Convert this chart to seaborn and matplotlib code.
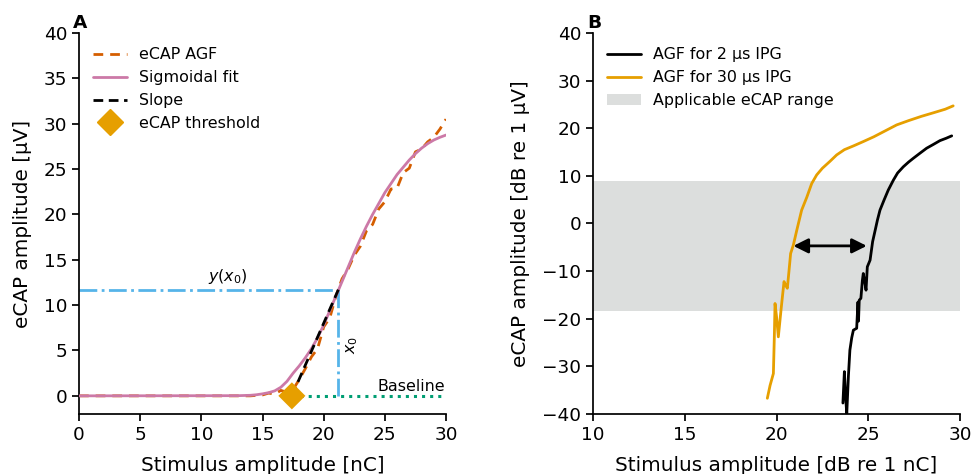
import numpy as np
import pandas as pd
import matplotlib
matplotlib.use("Agg")
import matplotlib.pyplot as plt
import seaborn as sns
from matplotlib.lines import Line2D
from matplotlib.patches import Patch

# ---------------- Panel A data ----------------
agf_x = [0, 5, 10, 14, 15, 15.5, 16, 16.5, 17, 17.5, 18, 18.5, 19, 19.5, 20, 20.5,
         21, 21.5, 22, 22.5, 23, 23.5, 24, 24.5, 25, 25.5, 26, 26.5, 27, 27.5,
         28, 28.5, 29, 29.5, 30]
agf_y = [0, 0, 0, 0, 0.1, 0.3, 0.2, 0.6, 0.4, 0.7, 1.8, 3.0, 4.3, 5.2, 7.6, 8.6,
         11.0, 12.9, 14.0, 15.5, 16.5, 18.2, 18.9, 20.6, 21.4, 22.8, 22.9, 24.6,
         25.1, 26.9, 27.2, 28.0, 28.5, 29.4, 30.5]

sig_x = [0, 13, 14, 14.5, 15, 15.5, 16, 16.5, 17, 17.5, 18, 18.5, 19, 19.5, 20,
         20.5, 21, 21.5, 22, 22.5, 23, 23.5, 24, 24.5, 25, 25.5, 26, 26.5, 27,
         27.5, 28, 28.5, 29, 29.5, 30]
sig_y = [0, 0.02, 0.06, 0.12, 0.22, 0.35, 0.55, 0.95, 1.6, 2.5, 3.3, 4.2, 5.2,
         6.4, 7.8, 9.4, 11.0, 12.6, 14.2, 15.8, 17.3, 18.7, 20.0, 21.2, 22.4,
         23.4, 24.4, 25.2, 26.0, 26.7, 27.3, 27.8, 28.2, 28.5, 28.75]

slope_x = [17.4, 21.2]
slope_y = [0.0, 11.7]

thr_x = [17.4]
thr_y = [0.0]

x0_val = 21.2
y_x0_val = 11.7
baseline_x = [17.4, 30]
baseline_y = [0, 0]

# ---------------- Panel B data ----------------
ipg30_x = [19.50, 19.65, 19.83, 19.88, 19.92, 20.00, 20.10, 20.25, 20.41, 20.50,
           20.59, 20.68, 20.77, 20.92, 21.10, 21.37, 21.65, 21.92, 22.19, 22.50,
           22.90, 23.28, 23.70, 24.20, 24.73, 25.30, 25.90, 26.55, 27.20, 27.90,
           28.60, 29.20, 29.63]
ipg30_y = [-36.7, -34.0, -31.5, -24.0, -16.8, -19.5, -23.8, -18.0, -12.2, -13.0,
           -13.6, -10.0, -6.3, -4.5, -1.5, 2.8, 5.5, 8.4, 10.2, 11.6,
           13.0, 14.4, 15.5, 16.3, 17.2, 18.2, 19.4, 20.7, 21.6, 22.5,
           23.3, 24.0, 24.7]

ipg2_x = [23.62, 23.70, 23.76, 23.83, 23.92, 24.00, 24.10, 24.19, 24.37, 24.44,
          24.47, 24.51, 24.60, 24.68, 24.73, 24.82, 24.88, 24.95, 25.10, 25.24,
          25.42, 25.50, 25.64, 25.86, 26.09, 26.37, 26.60, 26.91, 27.20, 27.46,
          27.80, 28.18, 28.55, 28.91, 29.25, 29.55]
ipg2_y = [-37.7, -31.1, -36.0, -39.9, -32.0, -26.6, -24.0, -22.4, -22.0, -16.5,
          -20.5, -16.1, -15.7, -12.0, -10.5, -12.5, -14.0, -9.1, -7.7, -3.8,
          -0.7, 0.7, 2.8, 4.9, 7.0, 9.1, 10.6, 11.9, 12.9, 13.7,
          14.7, 15.8, 16.6, 17.4, 17.9, 18.4]

range_low = -18.3
range_high = 8.9
arrow_x = [20.92, 24.92]
arrow_y = -4.7

# ---------------- Colours ----------------
c_agf = "#D55E00"
c_sig = "#CC79A7"
c_thr = "#E69F00"
c_blue = "#56B4E9"
c_green = "#009E73"
c_gray = "#DCDEDD"

sns.set_theme(style="ticks")
plt.rcParams["font.family"] = ["DejaVu Sans"]
plt.rcParams.update({
    "axes.labelsize": 14.4,
    "xtick.labelsize": 13.3,
    "ytick.labelsize": 13.3,
    "axes.linewidth": 1.25,
    "xtick.major.width": 1.25,
    "ytick.major.width": 1.25,
    "xtick.major.size": 5,
    "ytick.major.size": 5,
    "xtick.color": "black",
    "ytick.color": "black",
    "axes.edgecolor": "black",
    "axes.labelcolor": "black",
    "text.color": "black",
})

LEG_FS = 11.4

fig = plt.figure(figsize=(9.73, 4.74), dpi=100)
axA = fig.add_axes([0.0812, 0.1266, 0.3772, 0.8038])
axB = fig.add_axes([0.6095, 0.1266, 0.3771, 0.8038])

# ---------- Panel A ----------
dfA_agf = pd.DataFrame({"x": agf_x, "y": agf_y})
dfA_sig = pd.DataFrame({"x": sig_x, "y": sig_y})
dfA_slope = pd.DataFrame({"x": slope_x, "y": slope_y})

axA.plot([0, x0_val], [y_x0_val, y_x0_val], color=c_blue, ls="-.", lw=2, zorder=1)
axA.plot([x0_val, x0_val], [0, y_x0_val], color=c_blue, ls="-.", lw=2, zorder=1)
axA.plot(baseline_x, baseline_y, color=c_green, ls=":", lw=2.2, zorder=1)

sns.lineplot(data=dfA_agf, x="x", y="y", ax=axA, color=c_agf, lw=2,
             estimator=None, sort=False, zorder=2)
axA.lines[-1].set_linestyle((0, (3.5, 2.5)))
sns.lineplot(data=dfA_sig, x="x", y="y", ax=axA, color=c_sig, lw=2,
             estimator=None, sort=False, zorder=3)
sns.lineplot(data=dfA_slope, x="x", y="y", ax=axA, color="black", lw=2,
             estimator=None, sort=False, zorder=4)
axA.lines[-1].set_linestyle((0, (3.5, 2)))
sns.scatterplot(x=thr_x, y=thr_y, ax=axA, color=c_thr, marker="D", s=190,
                edgecolor="none", zorder=5)

axA.text(12.2, 12.1, r"$y(x_0)$", ha="center", va="bottom", fontsize=LEG_FS)
axA.text(21.65, 5.6, r"$x_0$", ha="left", va="center", rotation=90, fontsize=LEG_FS)
axA.text(29.9, 0.25, "Baseline", ha="right", va="bottom", fontsize=LEG_FS)

axA.set_xlim(0, 30)
axA.set_ylim(-2, 40)
axA.set_xticks([0, 5, 10, 15, 20, 25, 30])
axA.set_yticks([0, 5, 10, 15, 20, 25, 30, 35, 40])
axA.set_xlabel("Stimulus amplitude [nC]", labelpad=9)
axA.set_ylabel("eCAP amplitude [µV]", labelpad=8.5)

hA = [Line2D([], [], color=c_agf, lw=2, ls=(0, (3.5, 2.5))),
      Line2D([], [], color=c_sig, lw=2),
      Line2D([], [], color="black", lw=2, ls=(0, (3.5, 2))),
      Line2D([], [], color=c_thr, marker="D", ls="none", markersize=13)]
axA.legend(hA, ["eCAP AGF", "Sigmoidal fit", "Slope", "eCAP threshold"],
           loc="upper left", frameon=False, fontsize=LEG_FS,
           bbox_to_anchor=(0.0, 1.0), handlelength=2.1, labelspacing=0.5,
           handletextpad=0.8)

# ---------- Panel B ----------
axB.axhspan(range_low, range_high, color=c_gray, lw=0, zorder=0)
dfB2 = pd.DataFrame({"x": ipg2_x, "y": ipg2_y})
dfB30 = pd.DataFrame({"x": ipg30_x, "y": ipg30_y})
sns.lineplot(data=dfB2, x="x", y="y", ax=axB, color="black", lw=2,
             estimator=None, sort=False, zorder=2)
sns.lineplot(data=dfB30, x="x", y="y", ax=axB, color=c_thr, lw=2,
             estimator=None, sort=False, zorder=2)
axB.annotate("", xy=(arrow_x[1], arrow_y), xytext=(arrow_x[0], arrow_y),
             arrowprops=dict(arrowstyle="<|-|>", color="black", lw=2,
                             mutation_scale=22, shrinkA=0, shrinkB=0), zorder=3)

axB.set_xlim(10, 30)
axB.set_ylim(-40, 40)
axB.set_xticks([10, 15, 20, 25, 30])
axB.set_yticks([-40, -30, -20, -10, 0, 10, 20, 30, 40])
axB.set_xlabel("Stimulus amplitude [dB re 1 nC]", labelpad=9)
axB.set_ylabel("eCAP amplitude [dB re 1 µV]", labelpad=8.5)

hB = [Line2D([], [], color="black", lw=2),
      Line2D([], [], color=c_thr, lw=2),
      Patch(facecolor=c_gray, edgecolor="none")]
axB.legend(hB, ["AGF for 2 µs IPG", "AGF for 30 µs IPG", "Applicable eCAP range"],
           loc="upper left", frameon=False, fontsize=LEG_FS,
           bbox_to_anchor=(0.0, 1.0), handlelength=2.1, labelspacing=0.5,
           handletextpad=0.8)

sns.despine(fig=fig)

fig.text(73 / 973, 1 - 23 / 474, "A", fontsize=13.3, fontweight="bold",
         ha="left", va="center")
fig.text(587 / 973, 1 - 23 / 474, "B", fontsize=13.3, fontweight="bold",
         ha="left", va="center")

fig.savefig("out.png", dpi=100)
